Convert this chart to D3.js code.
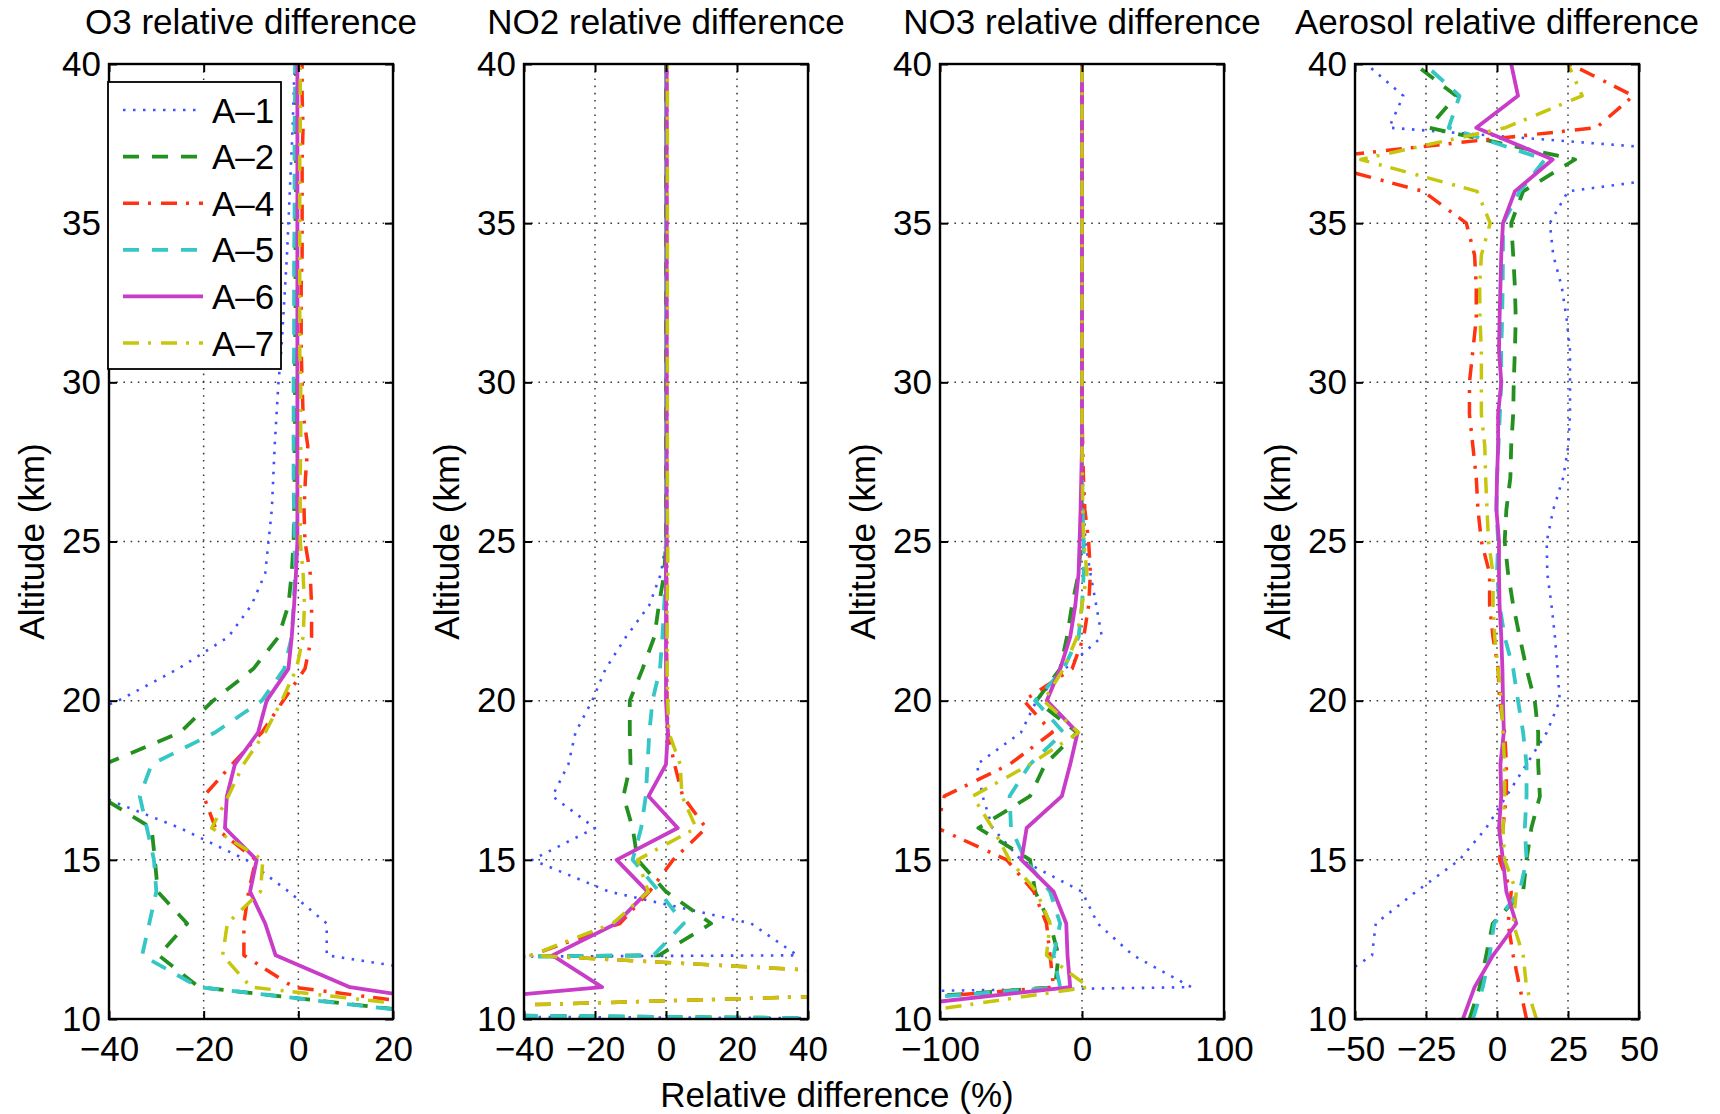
<!DOCTYPE html>
<html><head><meta charset="utf-8">
<script src="https://cdn.jsdelivr.net/npm/d3@7"></script>
<style>
body{margin:0;background:#fff;}
svg text{font-family:"Liberation Sans",Arial,Helvetica,sans-serif;fill:#000;}
</style>
</head><body>
<svg id="chart" width="1720" height="1114"></svg>
<script>
// ---------------- DATA ----------------
const altitudes = [10,11,12,13,14,15,16,17,18,19,20,21,22,23,24,25,26,27,28,29,30,31,32,33,34,35,36,37,38,39,40];
const seriesNames = ["A\u20131","A\u20132","A\u20134","A\u20135","A\u20136","A\u20137"];
const panelTitles = ["O3 relative difference","NO2 relative difference","NO3 relative difference","Aerosol relative difference"];
const altTicks = [10,15,20,25,30,35,40];
const o3Ticks = [-40,-20,0,20];
const no2Ticks = [-40,-20,0,20,40];
const no3Ticks = [-100,0,100];
const aerTicks = [-50,-25,0,25,50];
const yLabel = "Altitude (km)";
const xLabel = "Relative difference (%)";

// O3 (%), altitude 10..40 km
const o3_A1 = [60,50,6,6,-2,-11,-25,-42,-60,-55,-38,-25.4,-14.8,-9.9,-7,-6.3,-5.6,-5.3,-5,-4.6,-4.2,-3.6,-3.2,-2.8,-2.4,-2.1,-1.8,-1.5,-1.2,-1,-0.8];
const o3_A2 = [39,-21,-29.5,-23.5,-29.7,-30.3,-31,-42,-41,-25,-18,-9.5,-4.2,-2.1,-1.4,-1.0,-0.9,-0.8,-0.8,-0.7,-0.7,-0.7,-0.6,-0.6,-0.6,-0.6,-0.5,-0.5,-0.5,-0.5,-0.5];
const o3_A4 = [51,-1,-11.5,-11.5,-10.5,-9,-17.5,-20,-14,-7.7,-3.2,1.4,2.8,2.8,2.5,1.4,1.2,1.5,2,1,0.8,0.6,0.6,0.6,0.8,0.8,0.8,0.8,1,0.8,0.8];
const o3_A5 = [38,-21,-33,-31.5,-30,-30.5,-32,-33.5,-31,-17.6,-7.7,-3,-1.4,-1,-0.7,-0.8,-0.9,-1,-1,-1,-1,-0.9,-0.9,-0.9,-0.9,-0.8,-0.8,-0.8,-0.8,-0.7,-0.7];
const o3_A6 = [56,10.9,-4.8,-7,-10.2,-8.8,-15.5,-15.1,-13.4,-8.5,-6.7,-2.1,-1.4,-0.9,-0.5,-0.2,-0.2,-0.2,-0.2,-0.2,-0.2,-0.2,-0.2,-0.2,-0.2,-0.2,-0.2,-0.2,-0.2,-0.2,-0.2];
const o3_A7 = [50,-10,-16,-15,-8,-7.5,-18.3,-14.8,-11.6,-7,-3.5,-0.4,1,1.3,1,0.4,0.4,0.4,0.5,0.5,0.5,0.3,0.3,0.3,0.3,0.3,0.3,0.3,0.4,0.4,0.4];

// NO2 (%)
const no2_A1 = [100,-2000,37,24,-16,-37.7,-20,-32,-27.5,-25.5,-20.8,-17,-11.3,-4.7,-1.4,0,0,0,0,0,0,0,0,0,0,0,0,0,0,0,0];
const no2_A2 = [70,-1000,-2,12.7,0,-8,-9.4,-12,-10,-10.2,-10.2,-6.6,-3.3,-2,-0.5,0,0,0,0,0,0,0,0,0,0,0,0,0,0,0,0];
const no2_A4 = [-176,132,-38,-13,-4.7,2,11.3,4.7,2.4,0.5,0.3,0.2,0.2,0.2,0.2,0.2,0.2,0.2,0.2,0.2,0.2,0.2,0.2,0.2,0.2,0.2,0.2,0.2,0.2,0.2,0.2];
const no2_A5 = [70,-1000,-3.5,5,-1.9,-9.4,-7,-5.7,-5.2,-4.7,-3.8,-1.7,-1,-0.5,0,0,0,0,0,0,0,0,0,0,0,0,0,0,0,0,0];
const no2_A6 = [-118,-18,-32,-14,-5.2,-13.9,3.3,-4.9,0,0.5,0,0,0,0,0,0.2,0.2,0.2,0.2,0.2,0.2,0.2,0.2,0.2,0.2,0.2,0.2,0.2,0.2,0.2,0.2];
const no2_A7 = [-176,132,-38,-15,-5,-8,8.5,4.5,4,0.8,0.5,0.3,0.3,0.3,0.5,0.5,0.4,0.4,0.4,0.4,0.4,0.4,0.4,0.4,0.4,0.4,0.4,0.4,0.4,0.4,0.4];

// NO3 (%)
const no3_A1 = [-1500,77,36,11,0,-43,-63,-70,-74,-43,-32,-12,14,10,5.9,2.4,1.2,0.6,0.4,0.2,0,0,0,0,0,0,0,0,0,0,0];
const no3_A2 = [-319,-19,-16.5,-22.5,-33,-36.6,-73,-36.6,-26,-3.5,-32,-15.4,-10.6,-7,-2.4,-0.7,-0.3,0,0,0,0,0,0,0,0,0,0,0,0,0,0];
const no3_A4 = [-300,-20,-22.5,-25,-34,-53,-102,-97,-51,-21,-41,-7,1.2,4.7,5.9,4.7,2,1,0.5,0,0,0,0,0,0,0,0,0,0,0,0];
const no3_A5 = [-300,-15.4,-20,-15.4,-22.5,-40,-50,-51,-36.6,-13,-33,-13,-2.4,0,1.2,1.2,0.5,0,0,0,0,0,0,0,0,0,0,0,0,0,0];
const no3_A6 = [-212,-8.3,-10.2,-11.1,-20,-42.6,-39,-14.2,-8.3,-3.1,-24.8,-15.4,-8.3,-4.7,-2.4,-1.7,-1,-0.5,0,0,0,0,0,0,0,0,0,0,0,0,0];
const no3_A7 = [-149,4.7,-25,-22.5,-32,-51,-63,-77,-36.6,-2.4,-27,-13,-3.5,0,3.5,1.2,0.5,0.3,0,0,0,0,0,0,0,0,0,0,0,0,0];

// Aerosol (%)
const aer_A1 = [-80,-61,-44,-42.7,-28.5,-13.2,-3.8,3.3,10.4,17.5,22.1,21.3,20.4,19.2,17.7,17.5,19.8,23.3,25.1,25.7,25.7,25.7,24.5,22.8,19.8,18.6,25,109,-38,-33,-46];
const aer_A2 = [-9.7,-6.1,-3.8,-1.5,9.2,10.4,12.1,15.1,14.5,14.5,13.3,10.4,8,5.7,3.9,2.7,3.3,4.7,5,5.7,5.9,6.3,6.6,6.3,5.7,5,9.2,27.5,-24,-14.4,-29];
const aer_A4 = [10.4,8,5.7,3.9,5,0.9,2.1,3.3,3.3,2.7,0.9,0.4,-1.4,-2.6,-2.6,-5.5,-6.7,-7.3,-8.5,-9.7,-9.7,-8.5,-7.3,-7.3,-7.9,-10.8,-26,-68,35,48,25.7];
const aer_A5 = [-8.5,-5,-2.6,-1,8,10.4,9.8,10.4,10.4,9.2,7.4,5.7,2.7,0.9,0,0.4,-0.2,0,0.5,1,1.5,1.5,1.8,2,2.1,2.1,8,16.9,-17,-13.2,-25.6];
const aer_A6 = [-12,-7.9,-1.4,6.8,3.3,2.1,0.7,1.5,1.2,2.4,2.1,1.9,1.5,0.9,0.7,0.7,-0.2,0,0.4,0.4,1.5,0.7,0.9,1.2,1.5,2.1,6.3,19.6,-7.3,7.4,5];
const aer_A7 = [13.9,10.4,9.2,5.7,6.8,2.7,2.1,2.7,2.7,2.1,1.5,0.4,-0.8,-1.4,-1.4,-3,-3.5,-4,-4.3,-5.5,-5.5,-5.5,-6,-6.1,-5.5,-2.4,-7,-48,3,30,25];

// ---------------- STYLE / LAYOUT ----------------
const seriesStyle = [
  {color:"#4052ff", width:2.6, dash:"2.5,7.5"},
  {color:"#23901f", width:3.8, dash:"16,13"},
  {color:"#ff3311", width:3.5, dash:"16,9,3,10"},
  {color:"#35c6c6", width:3.8, dash:"16,13"},
  {color:"#c83cc8", width:3.8, dash:null},
  {color:"#c6c60c", width:3.5, dash:"16,9,3,10"}
];
const panels = [
  {title:panelTitles[0], domain:[-40,20], ticks:o3Ticks, data:[o3_A1,o3_A2,o3_A4,o3_A5,o3_A6,o3_A7]},
  {title:panelTitles[1], domain:[-40,40], ticks:no2Ticks, data:[no2_A1,no2_A2,no2_A4,no2_A5,no2_A6,no2_A7]},
  {title:panelTitles[2], domain:[-100,100], ticks:no3Ticks, data:[no3_A1,no3_A2,no3_A4,no3_A5,no3_A6,no3_A7]},
  {title:panelTitles[3], domain:[-50,50], ticks:aerTicks, data:[aer_A1,aer_A2,aer_A4,aer_A5,aer_A6,aer_A7]}
];
const panelLefts = [109,524,940,1355];
const panelW = 284;
const plotTop = 64, plotBottom = 1019;
const FS = 35;
const fmt = d => (d < 0 ? "\u2212" + Math.abs(d) : String(d));

const svg = d3.select("#chart");
const y = d3.scaleLinear().domain([10,40]).range([plotBottom - plotTop, 0]);
const defs = svg.append("defs");

panels.forEach((p, pi) => {
  const g = svg.append("g").attr("transform", `translate(${panelLefts[pi]},${plotTop})`);
  const h = plotBottom - plotTop;
  const x = d3.scaleLinear().domain(p.domain).range([0, panelW]);

  // grid
  const gridX = p.ticks.filter(t => t !== p.domain[0] && t !== p.domain[1]);
  const gridY = altTicks.filter(t => t !== 10 && t !== 40);
  g.append("g").selectAll("line").data(gridX).join("line")
    .attr("x1", d => x(d)).attr("x2", d => x(d)).attr("y1", 0).attr("y2", h)
    .attr("stroke", "#3a3a3a").attr("stroke-width", 1.5).attr("stroke-dasharray", "1.6,5.6");
  g.append("g").selectAll("line").data(gridY).join("line")
    .attr("y1", d => y(d)).attr("y2", d => y(d)).attr("x1", 0).attr("x2", panelW)
    .attr("stroke", "#3a3a3a").attr("stroke-width", 1.5).attr("stroke-dasharray", "1.6,5.6");

  // lines
  const clipId = "clip" + pi;
  defs.append("clipPath").attr("id", clipId).append("rect")
    .attr("x", 0).attr("y", 0).attr("width", panelW).attr("height", h);
  const lg = g.append("g").attr("clip-path", `url(#${clipId})`);
  p.data.forEach((vals, si) => {
    const st = seriesStyle[si];
    const line = d3.line().x(d => x(d)).y((d, i) => y(altitudes[i]));
    lg.append("path").attr("d", line(vals))
      .attr("fill", "none").attr("stroke", st.color).attr("stroke-width", st.width)
      .attr("stroke-dasharray", st.dash).attr("stroke-linejoin", "round");
  });

  // axes
  const axB = d3.axisBottom(x).tickValues(p.ticks).tickSizeInner(-8).tickSizeOuter(0).tickPadding(17).tickFormat(fmt);
  const axT = d3.axisTop(x).tickValues(p.ticks).tickSizeInner(-8).tickSizeOuter(0).tickFormat("");
  const axL = d3.axisLeft(y).tickValues(altTicks).tickSizeInner(-8).tickSizeOuter(0).tickPadding(8).tickFormat(d3.format("d"));
  const axR = d3.axisRight(y).tickValues(altTicks).tickSizeInner(-8).tickSizeOuter(0).tickFormat("");
  const styleAx = sel => {
    sel.select(".domain").remove();
    sel.selectAll("line").attr("stroke", "#000").attr("stroke-width", 2);
    sel.selectAll("text").attr("font-size", FS).attr("font-family", "Liberation Sans, Arial, sans-serif").attr("fill", "#000");
  };
  g.append("g").attr("transform", `translate(0,${h})`).call(axB).call(styleAx);
  g.append("g").call(axT).call(styleAx);
  g.append("g").call(axL).call(styleAx);
  g.append("g").attr("transform", `translate(${panelW},0)`).call(axR).call(styleAx);

  g.append("rect").attr("x", 0).attr("y", 0).attr("width", panelW).attr("height", h)
    .attr("fill", "none").attr("stroke", "#000").attr("stroke-width", 2.4);

  // title
  svg.append("text").attr("x", panelLefts[pi] + panelW / 2).attr("y", 34)
    .attr("text-anchor", "middle").attr("font-size", FS).text(p.title);
  // y label
  svg.append("text")
    .attr("transform", `translate(${panelLefts[pi] - 78},${(plotTop + plotBottom) / 2}) rotate(-90)`)
    .attr("text-anchor", "middle").attr("dominant-baseline", "central")
    .attr("font-size", FS).text(yLabel);

  // legend in first panel
  if (pi === 0) {
    const lgX = -1, lgY = 18, lgW = 173, lgH = 287;
    const leg = g.append("g");
    leg.append("rect").attr("x", lgX).attr("y", lgY).attr("width", lgW).attr("height", lgH)
      .attr("fill", "#fff").attr("stroke", "#000").attr("stroke-width", 1.8);
    seriesNames.forEach((n, si) => {
      const st = seriesStyle[si];
      const yy = lgY + 28 + si * 46.6;
      leg.append("line").attr("x1", lgX + 15).attr("x2", lgX + 95).attr("y1", yy).attr("y2", yy)
        .attr("stroke", st.color).attr("stroke-width", st.width).attr("stroke-dasharray", st.dash);
      leg.append("text").attr("x", lgX + 104).attr("y", yy).attr("dominant-baseline", "central")
        .attr("font-size", FS).text(n);
    });
  }
});

// common x label
svg.append("text").attr("x", 837).attr("y", 1107).attr("text-anchor", "middle")
  .attr("font-size", FS).text(xLabel);
</script>
</body></html>
